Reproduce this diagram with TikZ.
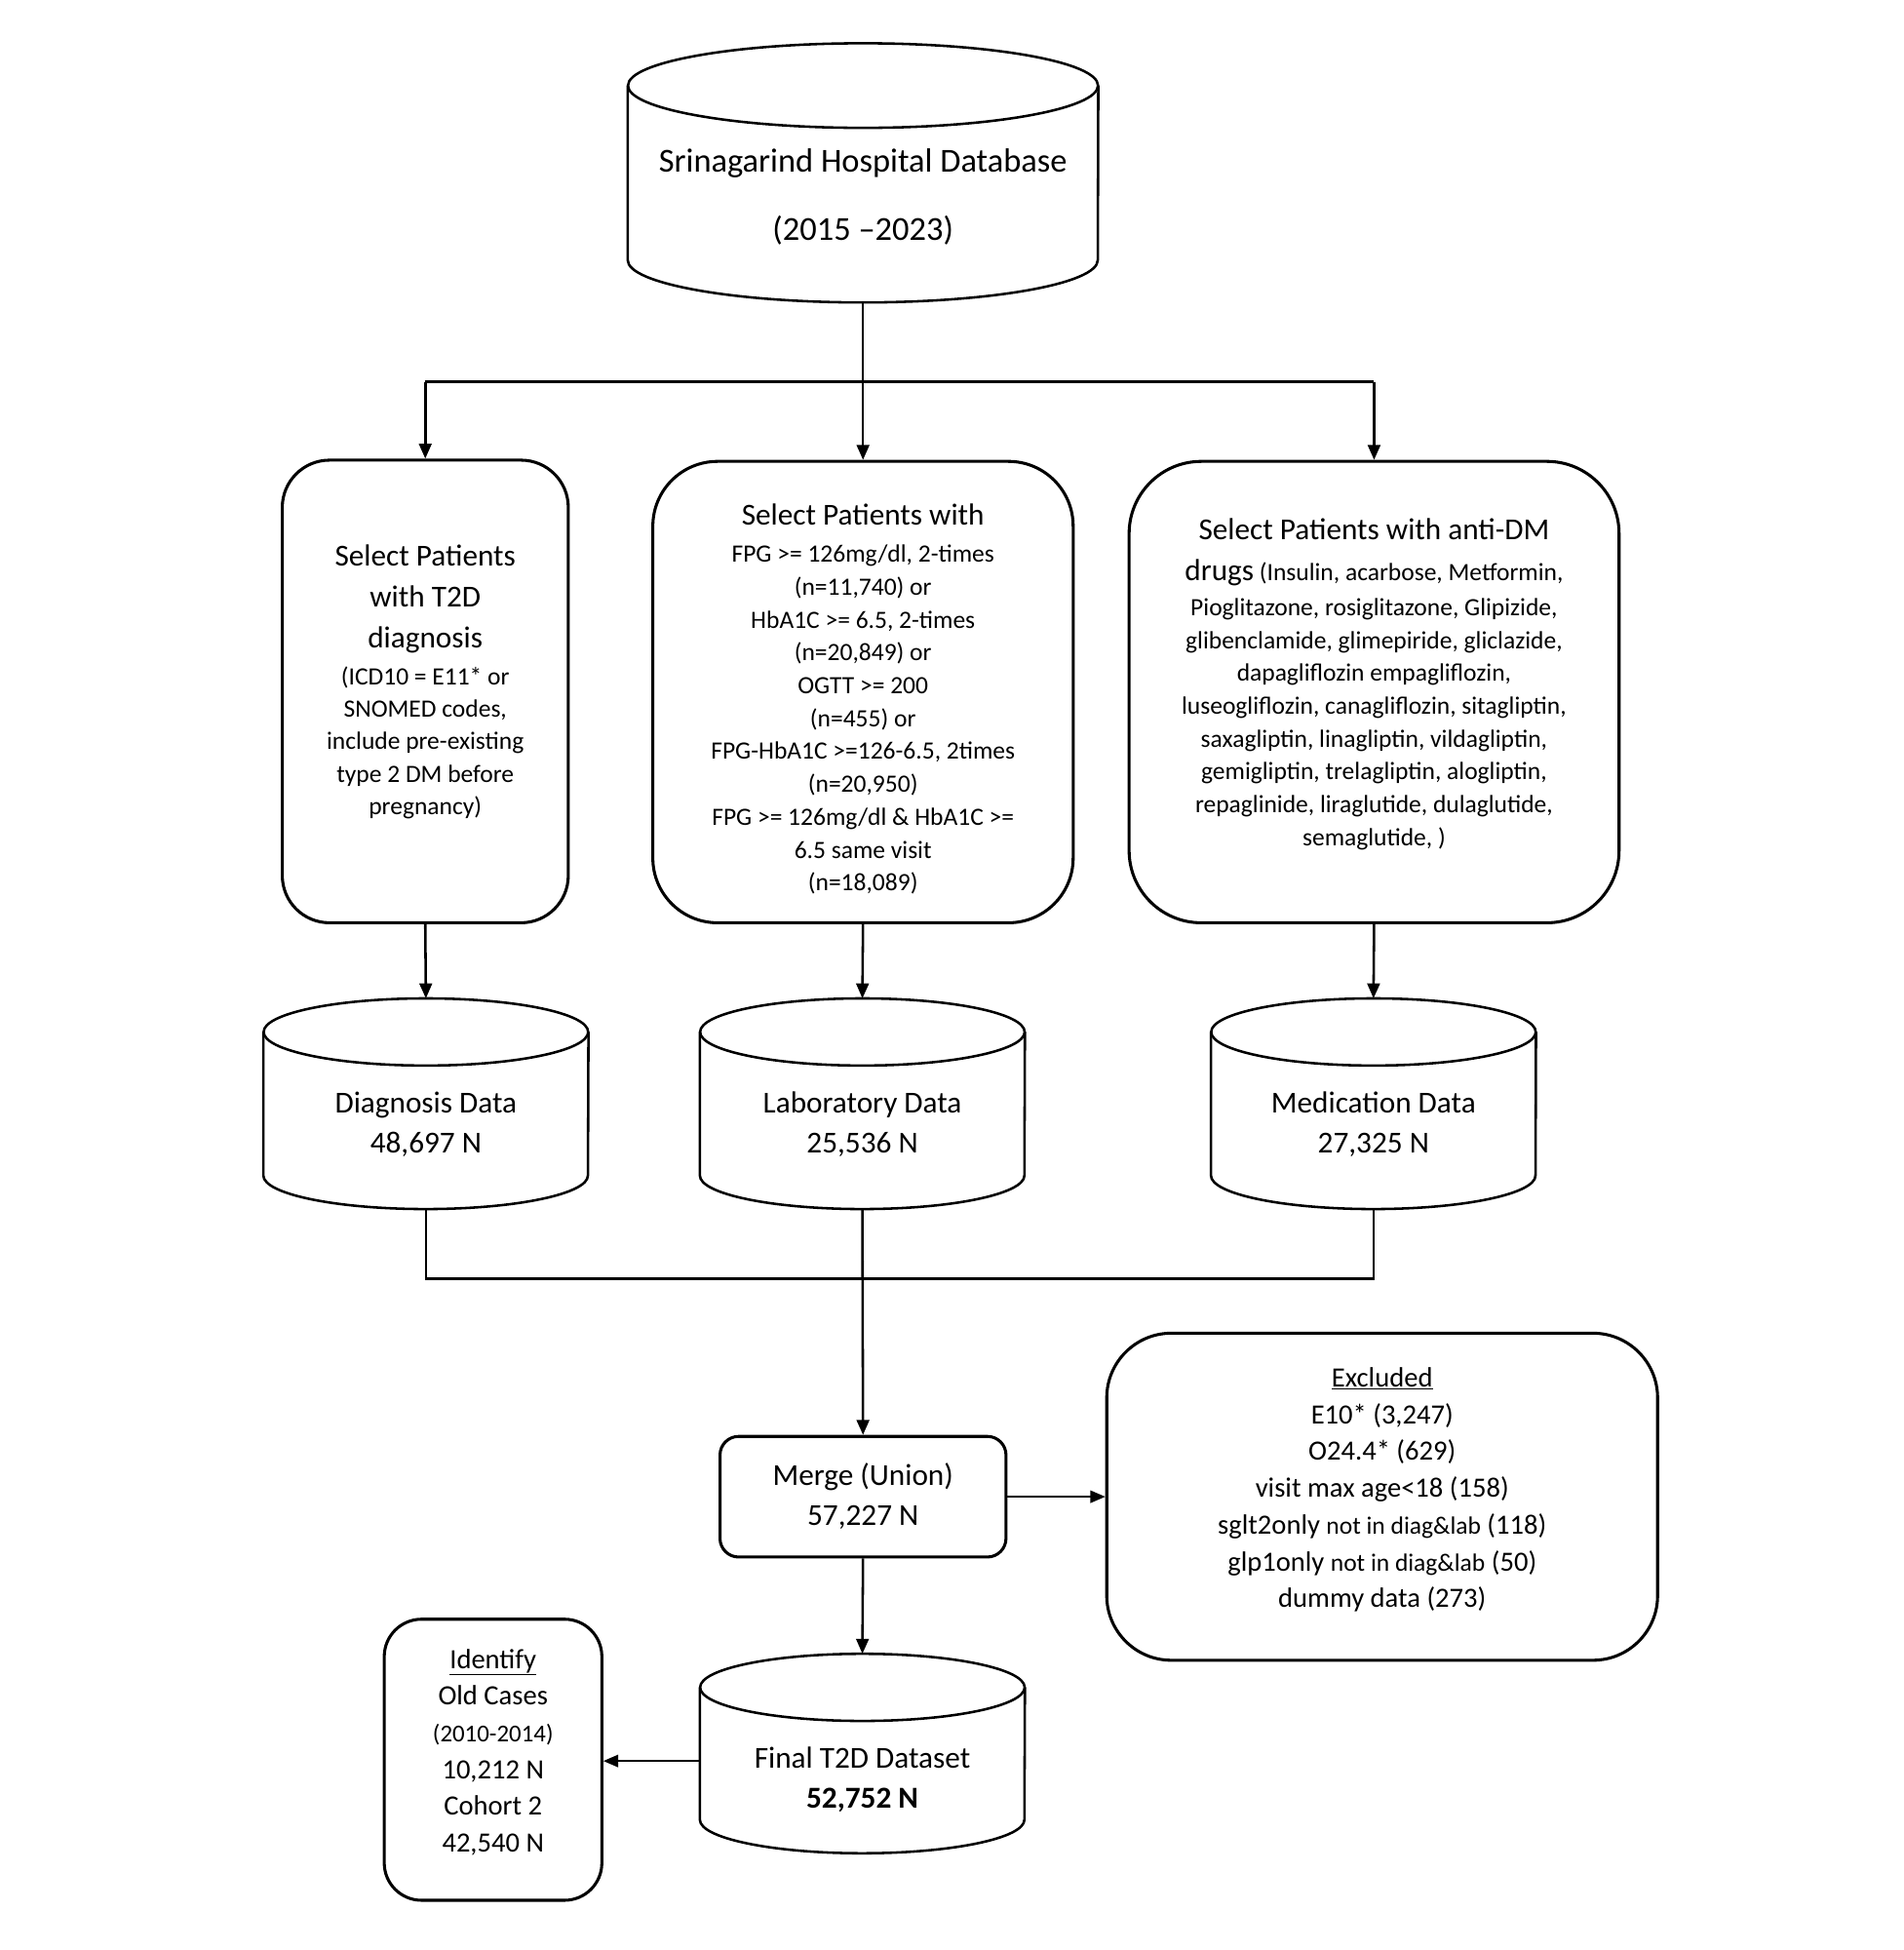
\documentclass[tikz,border=0pt]{standalone}
\usepackage{fontspec}
\setmainfont{Carlito}
\usetikzlibrary{arrows.meta,calc}
\newcommand\fbig{\fontsize{24.5}{26}\selectfont}
\newcommand\fsml{\fontsize{20}{26}\selectfont}
\newcommand\cylout[3]{%
  \draw[cylline] ($(#1.north west)+(0,#3)$) -- ($(#1.south west)+(0,-#3)$)
    arc[start angle=180,end angle=360,x radius=#2pt,y radius=#3pt]
    -- ($(#1.north east)+(0,#3)$);
  \draw[cylline] ($(#1.north)+(0,#3)$) ellipse[x radius=#2pt,y radius=#3pt];
}
\begin{document}
\begin{tikzpicture}[x=1pt,y=-1pt,
  bx/.style={draw, line width=2.4pt, rounded corners=#1, inner sep=0pt},
  cyl/.style={inner sep=0pt, draw=none},
  cylline/.style={line width=2pt},
  txt/.style={align=center, inner sep=0pt},
  conn/.style={line width=2pt},
  arr/.style={line width=2pt, -{Triangle[length=12pt,width=10pt]}},
  thinarr/.style={line width=1.2pt, -{Triangle[length=12pt,width=10pt]}}
]
\fill[white] (0,0) rectangle (1531,1568);
\useasboundingbox (0,0) rectangle (1531,1568);

% top database
\node[cyl, minimum width=378pt, minimum height=208pt] (db) at (694,139) {};
\cylout{db}{189}{34}
\node[txt, font=\fontsize{27}{30}\selectfont] (dbt) at (694,158) {Srinagarind Hospital Database\\[25pt](2015 –2023)};

% selection boxes
\node[bx=38, minimum width=230pt, minimum height=372pt] (b1) at (342,556) {};
\node[txt, font=\fsml] (b1t) at (342,548) {{\fbig Select Patients}\\[7pt]{\fbig with T2D}\\[7pt]{\fbig diagnosis}\\[4pt](ICD10 = E11* or\\SNOMED codes,\\include pre-existing\\type 2 DM before\\pregnancy)};

\node[bx=52, minimum width=338pt, minimum height=371pt] (b2) at (694,556.5) {};
\node[txt, font=\fontsize{20}{26.4}\selectfont] (b2t) at (694,562) {{\fbig Select Patients with}\\[4pt]FPG >= 126mg/dl, 2-times\\(n=11,740) or\\HbA1C >= 6.5, 2-times\\(n=20,849) or\\OGTT >= 200\\(n=455) or\\FPG-HbA1C >=126-6.5, 2times\\(n=20,950)\\FPG >= 126mg/dl \& HbA1C >=\\6.5 same visit\\(n=18,089)};

\node[bx=58, minimum width=394pt, minimum height=371pt] (b3) at (1105,556.5) {};
\node[txt, font=\fontsize{20}{26.4}\selectfont] (b3t) at (1105,550) {{\fbig Select Patients with anti-DM}\\[7pt]{\fbig drugs} (Insulin, acarbose, Metformin,\\[1.5pt]Pioglitazone, rosiglitazone, Glipizide,\\glibenclamide, glimepiride, gliclazide,\\dapagliflozin empagliflozin,\\luseogliflozin, canagliflozin, sitagliptin,\\saxagliptin, linagliptin, vildagliptin,\\gemigliptin, trelagliptin, alogliptin,\\repaglinide, liraglutide, dulaglutide,\\semaglutide, )};

% data cylinders
\node[cyl, minimum width=261pt, minimum height=169pt] (diag) at (342.5,887.5) {};
\cylout{diag}{130.5}{27}
\node[txt, font=\fontsize{24.5}{32}\selectfont] (diagt) at (342.5,904) {Diagnosis Data\\48,697 N};

\node[cyl, minimum width=261pt, minimum height=169pt] (lab) at (693.5,887.5) {};
\cylout{lab}{130.5}{27}
\node[txt, font=\fontsize{24.5}{32}\selectfont] (labt) at (693.5,904) {Laboratory Data\\25,536 N};

\node[cyl, minimum width=261pt, minimum height=169pt] (med) at (1104.5,887.5) {};
\cylout{med}{130.5}{27}
\node[txt, font=\fontsize{24.5}{32}\selectfont] (medt) at (1104.5,904) {Medication Data\\27,325 N};

% merge
\node[bx=15, minimum width=230pt, minimum height=97pt] (merge) at (694,1203.5) {};
\node[txt, font=\fontsize{24.5}{32}\selectfont] (merget) at (694,1203) {Merge (Union)\\57,227 N};

% excluded
\node[bx=52, minimum width=443pt, minimum height=263pt] (excl) at (1111.5,1203.5) {};
\node[txt, font=\fontsize{22.4}{29.6}\selectfont] (exclt) at (1111.5,1198) {\underline{Excluded}\\E10* (3,247)\\O24.4* (629)\\visit max age<18 (158)\\sglt2only {\fontsize{20}{29.6}\selectfont not in diag\&lab} (118)\\glp1only {\fontsize{20}{29.6}\selectfont not in diag\&lab} (50)\\dummy data (273)};

% final dataset
\node[cyl, minimum width=261pt, minimum height=160pt] (final) at (693.5,1410) {};
\cylout{final}{130.5}{27}
\node[txt, font=\fontsize{24.5}{32}\selectfont] (finalt) at (693.5,1431) {Final T2D Dataset\\\textbf{52,752 N}};

% identify
\node[bx=30, minimum width=175pt, minimum height=226pt] (ident) at (396.5,1415) {};
\node[txt, font=\fontsize{22.4}{29.5}\selectfont] (identt) at (396.5,1409) {\underline{Identify}\\Old Cases\\{\fontsize{19.5}{29.5}\selectfont (2010-2014)}\\10,212 N\\Cohort 2\\42,540 N};

% connectors
\coordinate (split) at (694,307);
\draw[conn] (db.south) -- (split);
\draw[conn] (split -| b1.north) -- (split -| b3.north);
\draw[arr] (split -| b1.north) -- (b1.north);
\draw[arr] (split) -- (b2.north);
\draw[arr] (split -| b3.north) -- (b3.north);

\draw[arr] (b1.south) -- (diag.north);
\draw[arr] (b2.south) -- (lab.north);
\draw[arr] (b3.south) -- (med.north);

\coordinate (join) at (694,1028);
\draw[conn] (diag.south) -- (diag.south |- join) -- (med.south |- join) -- (med.south);
\draw[arr] (lab.south) -- (merge.north);

\draw[thinarr] (merge.east) -- (excl.west);
\draw[arr] (merge.south) -- (final.north);
\draw[thinarr] ([yshift=-6pt]final.west) -- ([yshift=-6pt]final.west -| ident.east);
\end{tikzpicture}
\end{document}
